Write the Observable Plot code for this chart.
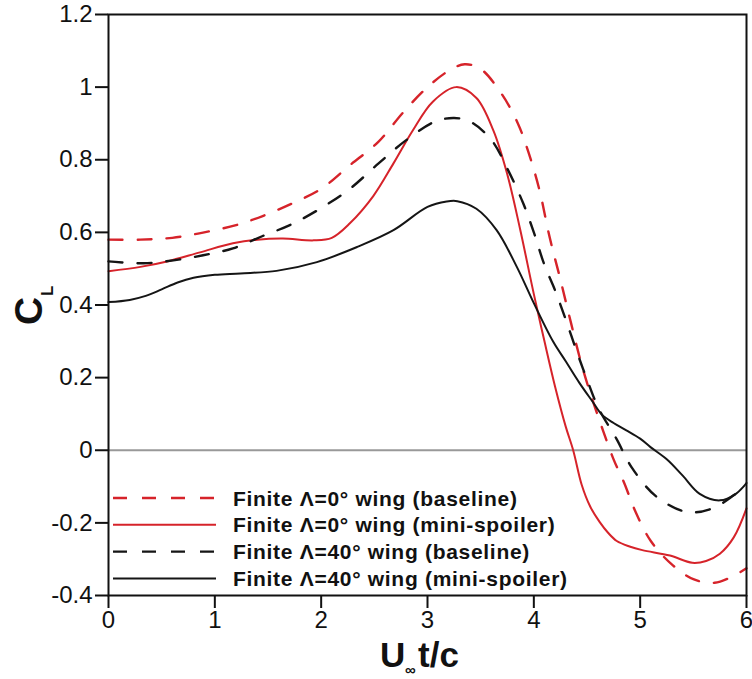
<!DOCTYPE html>
<html>
<head>
<meta charset="utf-8">
<script src="https://cdn.jsdelivr.net/npm/d3@7"></script>
<script src="https://cdn.jsdelivr.net/npm/@observablehq/plot@0.6"></script>
<style>
  html, body { margin: 0; padding: 0; background: white; }
  #chart { width: 752px; height: 679px; }
</style>
</head>
<body>
<div id="chart"></div>
<script>
// ---- Data ----
const seriesNames = [
  "Finite Λ=0° wing (baseline)",
  "Finite Λ=0° wing (mini-spoiler)",
  "Finite Λ=40° wing (baseline)",
  "Finite Λ=40° wing (mini-spoiler)"
];

const t0Base = [0, 0.3, 0.6, 0.9, 1.2, 1.45, 1.73, 2.0, 2.27, 2.54, 2.77, 3.0, 3.2, 3.35, 3.5, 3.7, 3.85, 3.95, 4.05, 4.15, 4.25, 4.35, 4.45, 4.55, 4.65, 4.75, 4.85, 4.95, 5.1, 5.3, 5.5, 5.7, 5.85, 6.0];
const cl0Base = [0.58, 0.58, 0.585, 0.60, 0.62, 0.645, 0.68, 0.72, 0.785, 0.85, 0.93, 1.0, 1.045, 1.063, 1.05, 0.98, 0.90, 0.82, 0.72, 0.585, 0.47, 0.35, 0.235, 0.14, 0.055, -0.025, -0.09, -0.165, -0.25, -0.315, -0.355, -0.365, -0.35, -0.325];

const t0Spoiler = [0, 0.3, 0.55, 0.86, 1.17, 1.4, 1.64, 1.93, 2.1, 2.27, 2.49, 2.68, 2.86, 3.05, 3.27, 3.46, 3.62, 3.75, 3.87, 4.0, 4.1, 4.2, 4.3, 4.37, 4.45, 4.53, 4.62, 4.7, 4.78, 4.9, 5.02, 5.28, 5.49, 5.62, 5.75, 5.88, 6.0];
const cl0Spoiler = [0.493, 0.505, 0.52, 0.545, 0.57, 0.58, 0.583, 0.578, 0.585, 0.625, 0.70, 0.79, 0.88, 0.96, 1.0, 0.97, 0.88, 0.76, 0.61, 0.43, 0.30, 0.175, 0.065, 0.0, -0.095, -0.155, -0.198, -0.228, -0.25, -0.265, -0.275, -0.29, -0.31, -0.305, -0.285, -0.24, -0.16];

const t40Base = [0, 0.33, 0.61, 0.89, 1.17, 1.45, 1.72, 2.0, 2.27, 2.54, 2.8, 3.07, 3.25, 3.4, 3.6, 3.76, 3.9, 4.0, 4.1, 4.2, 4.3, 4.4, 4.5, 4.61, 4.78, 4.92, 5.15, 5.44, 5.68, 5.9, 6.0];
const cl40Base = [0.52, 0.515, 0.523, 0.537, 0.556, 0.59, 0.622, 0.667, 0.72, 0.79, 0.854, 0.905, 0.915, 0.905, 0.855, 0.77, 0.68, 0.60, 0.51, 0.44, 0.36, 0.275, 0.195, 0.115, 0.03, -0.047, -0.127, -0.17, -0.16, -0.12, -0.10];

const t40Spoiler = [0, 0.2, 0.35, 0.5, 0.65, 0.8, 1.0, 1.24, 1.58, 1.96, 2.34, 2.68, 3.0, 3.18, 3.28, 3.46, 3.65, 3.84, 4.0, 4.18, 4.3, 4.43, 4.55, 4.64, 4.75, 4.87, 5.0, 5.1, 5.25, 5.4, 5.56, 5.75, 5.9, 6.0];
const cl40Spoiler = [0.408, 0.414, 0.425, 0.443, 0.462, 0.475, 0.483, 0.487, 0.494, 0.518, 0.56, 0.606, 0.67, 0.685, 0.686, 0.665, 0.606, 0.505, 0.405, 0.30, 0.245, 0.185, 0.135, 0.098, 0.075, 0.055, 0.032, 0.008, -0.025, -0.07, -0.12, -0.138, -0.12, -0.09];

const xTicks = [0, 1, 2, 3, 4, 5, 6];
const xTickLabels = ["0", "1", "2", "3", "4", "5", "6"];
const yTicks = [-0.4, -0.2, 0, 0.2, 0.4, 0.6, 0.8, 1, 1.2];
const yTickLabels = ["-0.4", "-0.2", "0", "0.2", "0.4", "0.6", "0.8", "1", "1.2"];

// ---- Build table ----
const seriesT = [t0Base, t0Spoiler, t40Base, t40Spoiler];
const seriesV = [cl0Base, cl0Spoiler, cl40Base, cl40Spoiler];
const seriesColor = ["#d6232a", "#d6232a", "#151515", "#151515"];
const seriesDash = ["14,15", null, "14,15", null];
const seriesWidth = [2.4, 2.0, 2.4, 2.0];

const rows = [];
seriesNames.forEach((name, k) => {
  seriesT[k].forEach((t, i) => rows.push({series: name, t, cl: seriesV[k][i]}));
});

const font = "'Liberation Sans', Arial, Helvetica, sans-serif";

const lineMarks = seriesNames.map((name, k) =>
  Plot.line(rows.filter(r => r.series === name), {
    x: "t", y: "cl",
    stroke: seriesColor[k],
    strokeWidth: seriesWidth[k],
    strokeDasharray: seriesDash[k] || undefined,
    curve: "catmull-rom"
  })
);

const chart = Plot.plot({
  width: 752,
  height: 679,
  marginLeft: 108,
  marginRight: 6,
  marginTop: 14,
  marginBottom: 84,
  style: {fontFamily: font, fontSize: "24px", color: "#111", background: "white", overflow: "visible"},
  x: {domain: [0, 6]},
  y: {domain: [-0.4, 1.2]},
  marks: [
    Plot.ruleY([0], {stroke: "#999", strokeWidth: 2}),
    ...lineMarks,
    Plot.frame({stroke: "#111", strokeWidth: 2}),
    Plot.axisX({ticks: xTicks, tickSize: 13, tickPadding: 2, strokeWidth: 2, label: null,
      fontSize: 24, fill: "#111",
      tickFormat: d => xTickLabels[xTicks.indexOf(d)]}),
    Plot.axisY({ticks: yTicks, tickSize: 13, tickPadding: 3, strokeWidth: 2, label: null,
      fontSize: 24, fill: "#111",
      tickFormat: d => yTickLabels[yTicks.indexOf(d)]})
  ]
});

document.getElementById("chart").appendChild(chart);

// ---- Legend and axis titles ----
const svg = d3.select(chart);

const legendX1 = 113, legendX2 = 216, legendTextX = 233;
const legendY0 = 498, legendDy = 26.8;
const lg = svg.append("g")
  .attr("font-family", font).attr("font-weight", "bold").attr("font-size", 21)
  .attr("letter-spacing", "0.7px")
  .attr("fill", "#111").attr("text-anchor", "start");
seriesNames.forEach((name, k) => {
  const y = legendY0 + k * legendDy;
  lg.append("line")
    .attr("x1", legendX1).attr("x2", legendX2)
    .attr("y1", y).attr("y2", y)
    .attr("stroke", seriesColor[k])
    .attr("stroke-width", seriesWidth[k])
    .attr("stroke-dasharray", seriesDash[k]);
  lg.append("text")
    .attr("x", legendTextX).attr("y", y)
    .attr("dy", "0.36em")
    .text(name);
});

// Y axis title: C_L
const yt = svg.append("g")
  .attr("font-family", font).attr("font-weight", "bold")
  .attr("fill", "#111").attr("text-anchor", "start");
yt.append("text")
  .attr("transform", "translate(42,325) rotate(-90)")
  .attr("font-size", 39)
  .text("C");
yt.append("text")
  .attr("transform", "translate(53,296) rotate(-90)")
  .attr("font-size", 17)
  .text("L");

// X axis title: U∞t/c
const xt = svg.append("g")
  .attr("font-family", font).attr("font-weight", "bold")
  .attr("fill", "#111").attr("text-anchor", "start");
xt.append("text").attr("x", 380).attr("y", 667).attr("font-size", 35).text("U");
xt.append("text").attr("x", 405).attr("y", 675).attr("font-size", 15).text("∞");
xt.append("text").attr("x", 418).attr("y", 667).attr("font-size", 35).text("t/c");
</script>
</body>
</html>
